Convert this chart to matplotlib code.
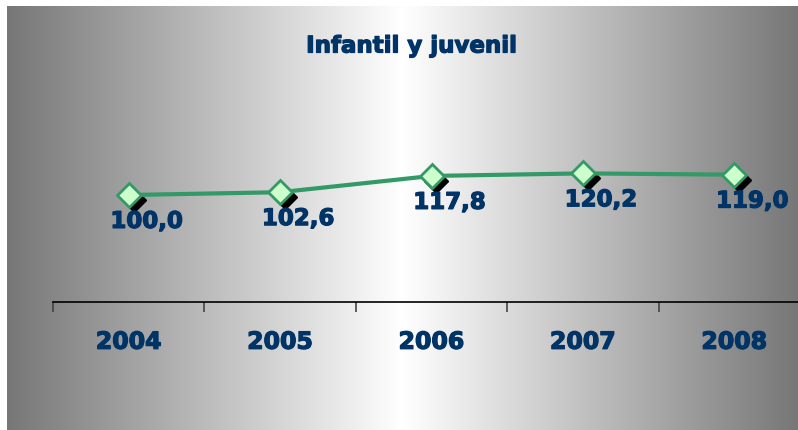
import numpy as np
import matplotlib
matplotlib.use("Agg")
import matplotlib.pyplot as plt
import matplotlib.transforms as mtransforms
import matplotlib.patheffects as pe

years = ["2004", "2005", "2006", "2007", "2008"]
values = [100.0, 102.6, 117.8, 120.2, 119.0]
value_labels = ["100,0", "102,6", "117,8", "120,2", "119,0"]
title = "Infantil y juvenil"

W, H = 798, 431
fig = plt.figure(figsize=(W / 100, H / 100), dpi=100)
fig.patch.set_facecolor("white")

# gradient background frame
bg = fig.add_axes([7 / W, 0, (W - 7) / W, (H - 7) / H])
xs = np.linspace(0, 1, 800)
c = 0.5
g = 1 - np.abs(xs - c) / 0.5
edge, mid = 119 / 255, 1.0
shade = edge + (mid - edge) * g
img = np.tile(shade, (10, 1))
bg.imshow(np.dstack([img, img, img]), aspect="auto", extent=[0, 1, 0, 1], interpolation="bilinear")
bg.set_axis_off()
bg.set_zorder(0)

# plot axes
left_px, right_px, bottom_px, top_px = 53, 810, 303, 89
ax = fig.add_axes([left_px / W, (H - bottom_px) / H, (right_px - left_px) / W, (bottom_px - top_px) / H])
ax.set_zorder(1)
ax.patch.set_alpha(0)
x = np.arange(1, len(years) + 1)
ax.set_xlim(0.5, len(years) + 0.5)
ax.set_ylim(0, 200)

line_color = "#339966"
text_color = "#003366"
thick = [pe.withStroke(linewidth=0.9, foreground=text_color)]

# shadow markers
shadow_tr = mtransforms.offset_copy(ax.transData, fig=fig, x=3.5, y=-3.5, units="points")
ax.plot(x, values, linestyle="none", marker="D", markersize=12, color="black",
        markeredgecolor="black", transform=shadow_tr, zorder=2, clip_on=False)
ax.plot(x, values, color=line_color, linewidth=3, zorder=3, clip_on=False)
ax.plot(x, values, linestyle="none", marker="D", markersize=12, markerfacecolor="#ccffcc",
        markeredgecolor=line_color, markeredgewidth=2, zorder=4, clip_on=False)

for xi, v, lab in zip(x, values, value_labels):
    ax.annotate(lab, (xi, v), xytext=(13, -19), textcoords="offset points",
                ha="center", va="center", fontsize=16.5, fontweight="bold",
                color=text_color, family="DejaVu Sans", zorder=5, path_effects=thick)

for s in ["left", "right", "top"]:
    ax.spines[s].set_visible(False)
ax.spines["bottom"].set_color("black")
ax.spines["bottom"].set_linewidth(1.2)
ax.set_yticks([])
ax.set_xticks(x)
ax.set_xticklabels(years, fontsize=17, fontweight="bold", color=text_color, family="DejaVu Sans")
for t in ax.get_xticklabels():
    t.set_path_effects(thick)
ax.tick_params(axis="x", which="major", length=0, pad=20)
ax.set_xticks(np.arange(0.5, len(years) + 1, 1), minor=True)
ax.tick_params(axis="x", which="minor", length=7, width=1.2, color="#444444", direction="out")

fig.text(411 / W, 1 - 47 / H, title, ha="center", va="center", fontsize=16.5,
         fontweight="bold", color=text_color, family="DejaVu Sans", path_effects=thick)

fig.savefig("out.png", dpi=100)
